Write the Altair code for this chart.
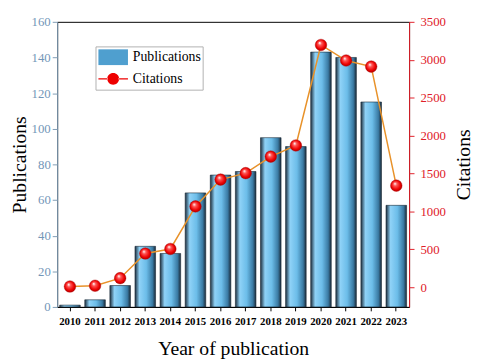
import altair as alt
import pandas as pd

years = ["2010", "2011", "2012", "2013", "2014", "2015", "2016",
         "2017", "2018", "2019", "2020", "2021", "2022", "2023"]
publications = [1, 4, 12, 34, 30, 64, 74, 76, 95, 90, 143, 140, 115, 57]
citations = [10, 20, 120, 445, 505, 1066, 1420, 1505, 1723, 1870, 3195, 2990, 2910, 1340]
series_names = ["Publications", "Citations"]
left_ticks = [0, 20, 40, 60, 80, 100, 120, 140, 160]
right_ticks = [0, 500, 1000, 1500, 2000, 2500, 3000, 3500]

df = pd.DataFrame({"year": years, "pubs": publications, "cites": citations})
legend_df = pd.DataFrame({"series": series_names, "year": [years[0]] * 2, "cites": [-5000, -5000]})

FONT = "Liberation Serif"

x_enc = alt.X("year:N", sort=years, title="Year of publication",
              scale=alt.Scale(paddingInner=0.18, paddingOuter=0.1),
              axis=alt.Axis(labelAngle=0, labelFont=FONT, labelFontWeight="bold",
                            labelFontSize=11, labelColor="black", labelPadding=5,
                            tickSize=4, tickColor="black", domainColor="black",
                            titleFont=FONT, titleFontSize=20, titleFontWeight="normal",
                            titleColor="black", titlePadding=12))

bar_grad = alt.LinearGradient(
    gradient="linear", x1=0, x2=1, y1=0, y2=0,
    stops=[alt.GradientStop(offset=0, color="#1e2f3e"),
           alt.GradientStop(offset=0.22, color="#8fd2f7"),
           alt.GradientStop(offset=0.55, color="#6cbde9"),
           alt.GradientStop(offset=0.85, color="#3a7aa3"),
           alt.GradientStop(offset=1, color="#1b2a38")])

bars = alt.Chart(df).mark_bar(color=bar_grad, stroke="#1a2a38", strokeWidth=0.6).encode(
    x=x_enc,
    y=alt.Y("pubs:Q", title="Publications",
            scale=alt.Scale(domain=[0, 160], nice=False),
            axis=alt.Axis(values=left_ticks, orient="left", format="d",
                          labelFont=FONT, labelFontSize=13,
                          labelColor="#7396b8", tickColor="#7f9cb5", domainColor="#7f9cb5",
                          tickSize=5, labelPadding=2, grid=False,
                          titleFont=FONT, titleFontSize=20, titleFontWeight="normal",
                          titleColor="black", titleAngle=270, titleBaseline="bottom",
                          titleX=-28, titleY=145))
)

sphere = alt.RadialGradient(
    gradient="radial", x1=0.38, y1=0.32, r1=0.02, x2=0.5, y2=0.5, r2=0.55,
    stops=[alt.GradientStop(offset=0, color="#ffffff"),
           alt.GradientStop(offset=0.25, color="#ff5a5a"),
           alt.GradientStop(offset=0.7, color="#ee0000"),
           alt.GradientStop(offset=1, color="#a00000")])

y_right = alt.Y("cites:Q", title="Citations",
                scale=alt.Scale(domain=[-259, 3500], nice=False, zero=False),
                axis=alt.Axis(values=right_ticks, orient="right", format="d",
                              labelFont=FONT, labelFontSize=13,
                              labelColor="#e0202a", tickColor="#e0202a", domainColor="#e0202a",
                              tickSize=5, labelPadding=6, grid=False,
                              titleFont=FONT, titleFontSize=20, titleFontWeight="normal",
                              titleColor="black", titleAngle=270, titleBaseline="top",
                              titleX=45, titleY=145))

line = alt.Chart(df).mark_line(color="#e8922a", strokeWidth=1.5).encode(x=alt.X("year:N", sort=years), y=y_right)
points = alt.Chart(df).mark_point(filled=True, size=140, fill=sphere, opacity=1,
                                  stroke="#b00000", strokeWidth=0.4).encode(
    x=alt.X("year:N", sort=years), y=y_right)

rect_path = "M-1.67,-0.89H1.67V0.89H-1.67Z"
circle_path = ("M-0.67,0A0.67,0.67 0 1,0 0.67,0A0.67,0.67 0 1,0 -0.67,0Z"
               "M-1.67,-0.08H-0.6V0.08H-1.67ZM0.6,-0.08H1.67V0.08H0.6Z")
legend_spec = alt.Legend(title=None, orient="none", legendX=39, legendY=25,
                         labelFont=FONT, labelFontSize=14, labelColor="black",
                         strokeColor="#b0b0b0", padding=1, symbolSize=324,
                         rowPadding=-3, symbolOpacity=1, symbolOffset=7, labelOffset=10)
dummy = alt.Chart(legend_df).mark_point(filled=True, clip=True).encode(
    x=alt.X("year:N", sort=years),
    y=alt.Y("cites:Q"),
    color=alt.Color("series:N", scale=alt.Scale(domain=series_names, range=["#4f9fcf", "#ee0000"]),
                    legend=legend_spec),
    shape=alt.Shape("series:N", scale=alt.Scale(domain=series_names, range=[rect_path, circle_path]),
                    legend=legend_spec),
)

right = alt.layer(line, points, dummy)

chart = alt.layer(bars, right).resolve_scale(y="independent").properties(
    width=358, height=290,
    autosize=alt.AutoSizeParams(type="none"),
    padding={"left": 50, "top": 11, "right": 65, "bottom": 55},
).configure(font=FONT).configure_view(stroke="black", strokeWidth=1).configure_axis(
    labelFont=FONT).configure_legend(labelFont=FONT)

chart.save("out.html", embed_options={"renderer": "svg", "actions": False})
